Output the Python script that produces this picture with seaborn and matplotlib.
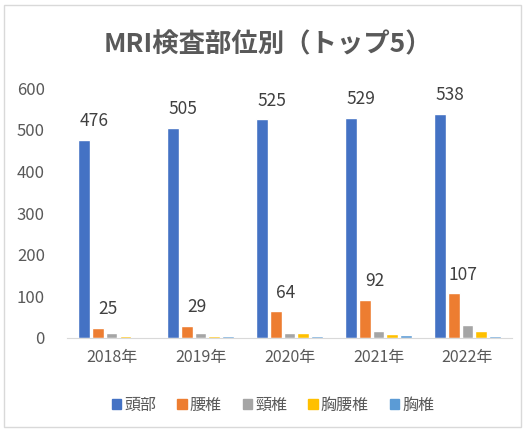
import pandas as pd
import matplotlib.pyplot as plt
import matplotlib.patches as mpatches
import seaborn as sns

sns.set_style('white')
plt.rcParams['font.family'] = ['Noto Sans CJK JP', 'DejaVu Sans']

# MRI exams by body part, top 5
years = ['2018年', '2019年', '2020年', '2021年', '2022年']
parts = ['頭部', '腰椎', '頸椎', '胸腰椎', '胸椎']
head = [476, 505, 525, 529, 538]
lumbar = [25, 29, 64, 92, 107]
cervical = [13, 11, 13, 17, 30]
thoracolumbar = [5, 5, 13, 10, 17]
thoracic = [1, 4, 4, 7, 5]
colors = ['#4472C4', '#ED7D31', '#A5A5A5', '#FFC000', '#5B9BD5']

series = [head, lumbar, cervical, thoracolumbar, thoracic]
df = pd.DataFrame([
    {'year': y, 'part': p, 'count': v}
    for p, vals in zip(parts, series)
    for y, v in zip(years, vals)
])

fig = plt.figure(figsize=(5.25, 4.3), dpi=100)
ax = fig.add_axes([0.128, 0.214, 0.847, 0.581])

sns.barplot(data=df, x='year', y='count', hue='part', order=years,
            hue_order=parts, palette=colors, width=0.77, gap=0.15,
            saturation=1, ax=ax)

# data labels only on the two biggest series
for cont in ax.containers[:2]:
    for rect in cont:
        h = rect.get_height()
        ax.annotate(f'{int(h)}', (rect.get_x() + rect.get_width() / 2, h),
                    xytext=(7, 7), textcoords='offset points',
                    ha='center', va='bottom', fontsize=12.5, color='#404040')

ax.set_ylim(0, 600)
ax.set_xlim(-0.5, 4.5)
ax.set_yticks(range(0, 601, 100))
ax.set_xlabel('')
ax.set_ylabel('')
ax.tick_params(axis='both', length=0, colors='#595959')
ax.tick_params(axis='x', pad=8, labelsize=11.5)
ax.tick_params(axis='y', pad=16, labelsize=12)
for s in ['top', 'right', 'left']:
    ax.spines[s].set_visible(False)
ax.spines['bottom'].set_color('#D9D9D9')

ax.legend_.remove()
handles = [mpatches.Patch(color=c, label=p) for c, p in zip(colors, parts)]
fig.legend(handles=handles, loc='center', bbox_to_anchor=(0.52, 0.058),
           ncol=5, frameon=False, fontsize=11.5, handlelength=0.6,
           handleheight=0.6, handletextpad=0.2, columnspacing=1.3,
           labelcolor='#595959')

fig.text(0.51, 0.895, 'MRI検査部位別（トップ5）', ha='center', va='center',
         fontsize=19, fontweight='bold', color='#595959')

fig.patches.append(mpatches.Rectangle((0.008, 0.008), 0.984, 0.98,
                                      transform=fig.transFigure, fill=False,
                                      edgecolor='#D9D9D9', linewidth=1))

fig.savefig('out.png', dpi=100)
